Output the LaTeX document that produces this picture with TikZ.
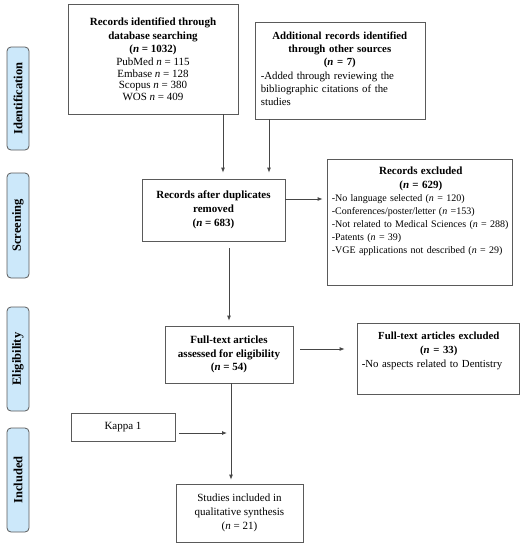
\documentclass[tikz,border=0pt]{standalone}
\usepackage{fontspec}
\setmainfont{Liberation Serif}
\usetikzlibrary{arrows.meta}
\definecolor{sideblue}{RGB}{204,232,250}
\definecolor{linegray}{RGB}{70,70,70}
\definecolor{boxgray}{RGB}{90,90,90}
\begin{document}
\begin{tikzpicture}[x=1pt,y=-1pt,
  font=\fontsize{11}{13.8}\selectfont,
  box/.style={draw=boxgray,line width=0.8pt,rectangle,inner sep=0pt,align=center},
  toptext/.style={anchor=north west,inner sep=0pt,text width=#1,align=left},
  side/.style={draw=boxgray,line width=0.8pt,fill=sideblue,rounded corners=4pt,rotate=90,
    minimum height=22pt,inner sep=0pt,font=\fontsize{12.5}{14}\selectfont\bfseries},
  arr/.style={draw=linegray,line width=0.8pt,-{Latex[length=5pt,width=4pt]}},
  ln/.style={draw=linegray,line width=0.8pt}]
\useasboundingbox (0,0) rectangle (531,550);

% side labels
\node[side,minimum width=103pt] (sid) at (18,98.5) {Identification};
\node[side,minimum width=105pt] (ssc) at (18,225.5) {Screening};
\node[side,minimum width=104pt] (sel) at (18,359) {Eligibility};
\node[side,minimum width=104pt] (sin) at (18,480) {Included};

% boxes
\node[box,minimum width=170pt,minimum height=110pt] (b1) at (153,59)
  {\textbf{Records identified through}\\\textbf{database searching}\\\textbf{(\textit{n} = 1032)}\\[-1pt]
   PubMed \textit{n} = 115\\[-2.3pt]Embase \textit{n} = 128\\[-2.3pt]Scopus \textit{n} = 380\\[-2.3pt]WOS \textit{n} = 409};

\node[box,minimum width=170pt,minimum height=97pt] (b2) at (340,70.5) {};
\node[toptext=158pt,font=\fontsize{10.8}{13.2}\selectfont] (b2t) at ([xshift=6pt,yshift=-10pt]b2.north west)
  {{\centering\bfseries Additional records identified\\through other sources\\(\textit{n} = 7)\par}
   -Added through reviewing the\\bibliographic citations of the\\studies};

\node[box,minimum width=143pt,minimum height=62pt] (b3) at (213.5,210)
  {\textbf{Records after duplicates}\\\textbf{removed}\\\textbf{(\textit{n} = 683)}};

\node[box,minimum width=185pt,minimum height=126pt] (b4) at (419.5,222) {};
\node[toptext=178pt,font=\fontsize{10}{13}\selectfont] (b4t) at ([xshift=5pt,yshift=-8pt]b4.north west)
  {{\centering\bfseries\fontsize{11}{14.5}\selectfont Records excluded\\(\textit{n} = 629)\par}
   -No language selected (\textit{n} = 120)\\
   -Conferences/poster/letter (\textit{n} =153)\\
   -Not related to Medical Sciences (\textit{n} = 288)\\
   -Patents (\textit{n} = 39)\\
   -VGE applications not described (\textit{n} = 29)};

\node[box,minimum width=128pt,minimum height=57pt] (b5) at (229,354.5)
  {\textbf{Full-text articles}\\\textbf{assessed for eligibility}\\\textbf{(\textit{n} = 54)}};

\node[box,minimum width=162pt,minimum height=71pt] (b6) at (438,358.5) {};
\node[toptext=154pt,font=\fontsize{10.8}{14}\selectfont] (b6t) at ([xshift=5pt,yshift=-9pt]b6.north west)
  {{\centering\bfseries Full-text articles excluded\\(\textit{n} = 33)\par}
   \textbf{-}No aspects related to Dentistry};

\node[box,minimum width=104pt,minimum height=28pt] (kap) at (123,427) {Kappa 1};

\node[box,minimum width=127pt,minimum height=58pt] (b7) at (239.5,513)
  {Studies included in\\qualitative synthesis\\(\textit{n} = 21)};

% connector guide coordinates
\coordinate (x1) at (223,0);
\coordinate (x2) at (269,0);
\coordinate (x3) at (229,0);
\coordinate (x5) at (231,0);
\coordinate (ym) at (0,433);
\coordinate (kj) at (231,433);

\draw[arr,shorten >=6pt] (b1.south -| x1) -- (b3.north -| x1);
\draw[arr,shorten >=6pt] (b2.south -| x2) -- (b3.north -| x2);
\draw[arr,shorten >=4pt] (b3.east |- 0,199) -- (b4.west |- 0,199);
\draw[arr,shorten <=7pt,shorten >=5pt] (b3.south -| x3) -- (b5.north -| x3);
\draw[arr,shorten <=7pt,shorten >=12pt] (b5.east |- 0,349) -- (b6.west |- 0,349);
\draw[arr,shorten >=4pt] (b5.south -| x5) -- (b7.north -| x5);
\draw[arr,shorten <=4pt,shorten >=4pt] (kap.east |- ym) -- (kj);
\end{tikzpicture}
\end{document}
